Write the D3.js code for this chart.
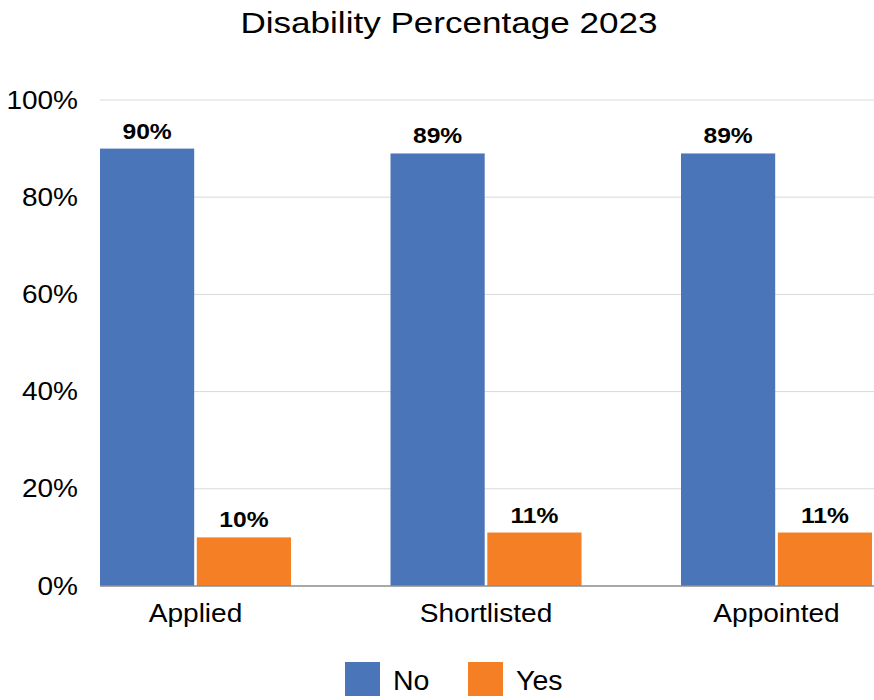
<!DOCTYPE html>
<html>
<head>
<meta charset="utf-8">
<script src="https://cdn.jsdelivr.net/npm/d3@7"></script>
<style>
  html, body { margin: 0; padding: 0; background: #fff; }
  svg { display: block; font-family: "Liberation Sans", Arial, sans-serif; }
</style>
</head>
<body>
<svg id="chart" width="874" height="700"></svg>
<script>
// Share of candidates declaring a disability, by recruitment stage
const stages = ["Applied", "Shortlisted", "Appointed"];
const seriesNames = ["No", "Yes"];
const noValues = [90, 89, 89];
const yesValues = [10, 11, 11];
const yTicks = [0, 20, 40, 60, 80, 100];
const colors = ["#4a75b8", "#f47f24"];

const rows = stages.map((s, i) => ({ stage: s, values: [noValues[i], yesValues[i]] }));

const svg = d3.select("#chart");
const W = 874;
const wide = "scale(1.12,1)"; // slightly extended lettering

const x0 = d3.scaleBand().domain(stages).range([100, 872]).paddingInner(0.3425).paddingOuter(0);
const x1 = d3.scaleBand().domain(seriesNames).range([0, x0.bandwidth()]).paddingInner(0.027);
const y = d3.scaleLinear().domain([0, 100]).range([586, 100]);

// Title
svg.append("g")
  .attr("transform", "translate(449,33)")
  .append("text")
  .attr("transform", "scale(1.17,1)")
  .attr("text-anchor", "middle")
  .attr("font-size", 30)
  .attr("fill", "#000")
  .text("Disability Percentage 2023");

// Gridlines
svg.append("g").selectAll("line")
  .data(yTicks.filter(d => d > 0))
  .join("line")
  .attr("x1", 100).attr("x2", W)
  .attr("y1", d => y(d)).attr("y2", d => y(d))
  .attr("stroke", "#d9d9d9").attr("stroke-width", 1);

// Y axis labels
const yAxis = d3.axisLeft(y).tickValues(yTicks).tickSize(0).tickPadding(0).tickFormat(d => d + "%");
svg.append("g")
  .attr("transform", "translate(78,0)")
  .call(yAxis)
  .call(g => g.select(".domain").remove())
  .call(g => g.selectAll("text")
    .attr("transform", wide)
    .attr("font-size", 25)
    .attr("fill", "#000")
    .attr("font-family", "Liberation Sans, Arial, sans-serif"));

// Bars
const groups = svg.append("g").selectAll("g")
  .data(rows)
  .join("g")
  .attr("transform", d => `translate(${x0(d.stage)},0)`);

const cells = d => d.values.map((v, i) => ({ key: seriesNames[i], value: v, i }));

groups.selectAll("rect")
  .data(cells)
  .join("rect")
  .attr("x", d => x1(d.key))
  .attr("width", x1.bandwidth())
  .attr("y", d => y(d.value))
  .attr("height", d => y(0) - y(d.value))
  .attr("fill", d => colors[d.i]);

groups.selectAll("g.val")
  .data(cells)
  .join("g")
  .attr("class", "val")
  .attr("transform", d => `translate(${x1(d.key) + x1.bandwidth() / 2},${y(d.value) - 10})`)
  .append("text")
  .attr("transform", wide)
  .attr("text-anchor", "middle")
  .attr("font-size", 22)
  .attr("font-weight", "bold")
  .attr("fill", "#000")
  .text(d => d.value + "%");

// Baseline
svg.append("line")
  .attr("x1", 100).attr("x2", W)
  .attr("y1", y(0)).attr("y2", y(0))
  .attr("stroke", "#8c8c8c").attr("stroke-width", 1.3);

// X axis labels
const xAxis = d3.axisBottom(x0).tickSize(0).tickPadding(0);
svg.append("g")
  .attr("transform", `translate(0,${y(0) + 17.5})`)
  .call(xAxis)
  .call(g => g.select(".domain").remove())
  .call(g => g.selectAll("text")
    .attr("transform", "scale(1.08,1)")
    .attr("font-size", 26)
    .attr("fill", "#000")
    .attr("font-family", "Liberation Sans, Arial, sans-serif"));

// Legend
const legendItems = [
  { name: seriesNames[0], color: colors[0], x: 345 },
  { name: seriesNames[1], color: colors[1], x: 468 }
];
const legend = svg.append("g").selectAll("g")
  .data(legendItems)
  .join("g")
  .attr("transform", d => `translate(${d.x},662)`);
legend.append("rect")
  .attr("width", 35).attr("height", 34)
  .attr("fill", d => d.color);
legend.append("text")
  .attr("x", 48).attr("y", 28)
  .attr("font-size", 28.5)
  .attr("fill", "#000")
  .text(d => d.name);
</script>
</body>
</html>
